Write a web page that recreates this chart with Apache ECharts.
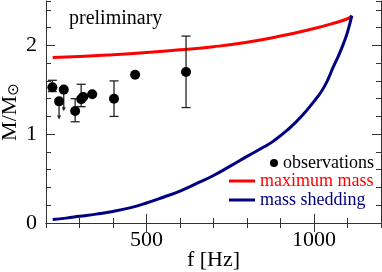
<!DOCTYPE html>
<html>
<head>
<meta charset="utf-8">
<script src="https://cdn.jsdelivr.net/npm/echarts@6/dist/echarts.min.js"></script>
<style>html,body{margin:0;padding:0;background:#fff;}#c{width:382px;height:272px;}</style>
</head>
<body>
<div id="c"></div>
<script>
// Maximum mass curve (f [Hz], M/Msun)
const maxMassF = [220, 300, 400, 500, 600, 700, 800, 900, 1000, 1050, 1100, 1113];
const maxMassM = [1.865, 1.875, 1.895, 1.92, 1.95, 1.985, 2.035, 2.105, 2.19, 2.24, 2.30, 2.335];
// Mass shedding curve
const shedF = [220, 260, 300, 350, 400, 450, 500, 550, 600, 650, 700, 750, 800, 850, 880, 920, 960, 1000, 1030, 1058, 1075, 1088, 1100, 1113];
const shedM = [0.04, 0.055, 0.075, 0.10, 0.13, 0.17, 0.225, 0.29, 0.36, 0.445, 0.535, 0.64, 0.75, 0.855, 0.925, 1.045, 1.19, 1.37, 1.53, 1.76, 1.90, 2.02, 2.15, 2.335];
// Observations
const obsF = [219, 239, 253, 287, 305, 311, 338, 403, 466, 618];
const obsM = [1.528, 1.37, 1.502, 1.262, 1.395, 1.42, 1.45, 1.40, 1.67, 1.70];
const errLow = [1.48, null, null, 1.14, 1.31, null, null, 1.20, null, 1.30];
const errHigh = [1.607, null, null, 1.40, 1.562, null, null, 1.60, null, 2.105];
const limitTo = [null, 1.165, 1.258, null, null, null, null, null, null, null];
// Tick labels
const xLabels = [500, 1000];
const yLabels = [0, 1, 2];

const FONT = 'Liberation Serif';
const AX = '#333';

const pairs = (a, b) => a.map((v, i) => [v, b[i]]);
const errData = [];
obsF.forEach((f, i) => { if (errLow[i] != null) errData.push([f, errLow[i], errHigh[i]]); });
const limData = [];
obsF.forEach((f, i) => { if (limitTo[i] != null) limData.push([f, obsM[i], limitTo[i]]); });

function xAx(pos, major, labels) {
  return {
    type: 'value', min: 200, max: 1200, interval: 100, position: pos,
    axisLine: { show: !major, lineStyle: { color: AX, width: 1 } },
    axisTick: major ? { show: true, inside: true, length: 9, customValues: xLabels, lineStyle: { color: AX } }
                    : { show: true, inside: true, length: 5, lineStyle: { color: AX } },
    axisLabel: labels ? { show: true, customValues: xLabels, formatter: v => String(v), fontFamily: FONT, fontSize: 22, color: '#000', margin: 6 } : { show: false },
    splitLine: { show: false },
    name: labels ? 'f [Hz]' : '', nameLocation: 'middle', nameGap: 26, nameMoveOverlap: false,
    nameTextStyle: { fontFamily: FONT, fontSize: 22, color: '#000' }
  };
}
function yAx(pos, major, labels) {
  return {
    type: 'value', min: 0, max: 2.5, interval: 0.2, position: pos,
    axisLine: { show: !major, lineStyle: { color: AX, width: 1 } },
    axisTick: major ? { show: true, inside: true, length: 9, customValues: [1, 2], lineStyle: { color: AX } }
                    : { show: true, inside: true, length: 5, lineStyle: { color: AX } },
    axisLabel: labels ? { show: true, customValues: yLabels, formatter: v => String(v), fontFamily: FONT, fontSize: 22, color: '#000', margin: 9 } : { show: false },
    splitLine: { show: false },
    name: labels ? 'M/M{s|⊙}' : '', nameLocation: 'middle', nameGap: 24, nameRotate: 90, nameMoveOverlap: false,
    nameTextStyle: { fontFamily: FONT, fontSize: 22, color: '#000',
      rich: { s: { fontFamily: 'DejaVu Sans', fontSize: 15, color: '#000', verticalAlign: 'bottom', padding: [8, 0, 0, 0] } } }
  };
}

const chart = echarts.init(document.getElementById('c'), null, { renderer: 'canvas' });
chart.setOption({
  animation: false,
  backgroundColor: '#fff',
  title: { text: 'preliminary', left: 64, top: 4, textStyle: { fontFamily: FONT, fontSize: 20, fontWeight: 'normal', color: '#000' } },
  grid: { left: 46, right: 1, top: 1, bottom: 49, outerBoundsMode: 'none', containLabel: false },
  xAxis: [xAx('bottom', false, true), xAx('bottom', true, false), xAx('top', false, false), xAx('top', true, false)],
  yAxis: [yAx('left', false, true), yAx('left', true, false), yAx('right', false, false), yAx('right', true, false)],
  legend: [
    { data: ['observations'], left: 270, top: 154, padding: 0, icon: 'circle', itemWidth: 8, itemHeight: 8,
      textStyle: { fontFamily: FONT, fontSize: 18, color: '#000' } },
    { data: ['maximum mass'], left: 229, top: 172, padding: 0, icon: 'rect', itemWidth: 26, itemHeight: 3,
      textStyle: { fontFamily: FONT, fontSize: 18, color: '#ff0000' } },
    { data: ['mass shedding'], left: 229, top: 191, padding: 0, icon: 'rect', itemWidth: 26, itemHeight: 3,
      textStyle: { fontFamily: FONT, fontSize: 18, color: '#000080' } }
  ],
  series: [
    { name: 'maximum mass', type: 'line', data: pairs(maxMassF, maxMassM), smooth: 0.5, showSymbol: false,
      lineStyle: { color: '#ff0000', width: 3 }, itemStyle: { color: '#ff0000' }, z: 3 },
    { name: 'mass shedding', type: 'line', data: pairs(shedF, shedM), smooth: 0.5, showSymbol: false,
      lineStyle: { color: '#000080', width: 3 }, itemStyle: { color: '#000080' }, z: 3 },
    { name: 'errbars', type: 'custom', data: errData, z: 4,
      renderItem: function (params, api) {
        const lo = api.coord([api.value(0), api.value(1)]);
        const hi = api.coord([api.value(0), api.value(2)]);
        const w = 4.5;
        const st = { stroke: '#222', lineWidth: 1.3 };
        return { type: 'group', children: [
          { type: 'line', shape: { x1: lo[0], y1: lo[1], x2: hi[0], y2: hi[1] }, style: st },
          { type: 'line', shape: { x1: lo[0] - w, y1: lo[1], x2: lo[0] + w, y2: lo[1] }, style: st },
          { type: 'line', shape: { x1: hi[0] - w, y1: hi[1], x2: hi[0] + w, y2: hi[1] }, style: st }
        ] };
      } },
    { name: 'limits', type: 'custom', data: limData, z: 4,
      renderItem: function (params, api) {
        const a = api.coord([api.value(0), api.value(1)]);
        const b = api.coord([api.value(0), api.value(2)]);
        return { type: 'group', children: [
          { type: 'line', shape: { x1: a[0], y1: a[1], x2: b[0], y2: b[1] - 3 }, style: { stroke: '#222', lineWidth: 1.3 } },
          { type: 'polygon', shape: { points: [[b[0] - 2, b[1] - 4], [b[0] + 2, b[1] - 4], [b[0], b[1]]] }, style: { fill: '#222' } }
        ] };
      } },
    { name: 'observations', type: 'scatter', data: pairs(obsF, obsM), symbol: 'circle', symbolSize: 10,
      itemStyle: { color: '#000', opacity: 1 }, z: 5 }
  ]
});
</script>
</body>
</html>
